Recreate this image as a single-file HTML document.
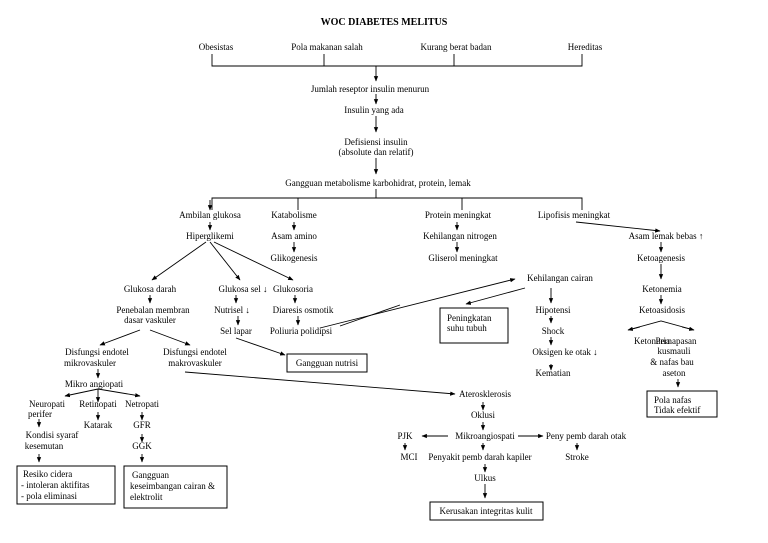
<!DOCTYPE html>
<html><head><meta charset="utf-8"><style>
html,body{margin:0;padding:0;background:#fff;}
svg{display:block;}
text{font-family:"Liberation Serif",serif;font-size:9px;fill:#000;text-anchor:middle;}
.l{text-anchor:start;}
line,polyline{stroke:#000;stroke-width:0.9;fill:none;}
rect{fill:none;stroke:#000;stroke-width:1;}
</style></head><body>
<svg width="768" height="543" viewBox="0 0 768 543">
<defs><marker id="a" viewBox="0 0 10 10" refX="9" refY="5" markerWidth="6" markerHeight="6" orient="auto"><path d="M0,1 L10,5 L0,9 z" fill="#000"/></marker></defs>
<text x="384" y="25" style="font-weight:bold;font-size:10px">WOC DIABETES MELITUS</text>
<text x="216" y="50">Obesistas</text>
<text x="327" y="50">Pola makanan salah</text>
<text x="456" y="50">Kurang berat badan</text>
<text x="585" y="50">Hereditas</text>
<polyline points="212,54 212,66 582,66 582,54"/>
<line x1="324" y1="54" x2="324" y2="66"/><line x1="454" y1="54" x2="454" y2="66"/>
<line x1="376" y1="66" x2="376" y2="81" marker-end="url(#a)"/>
<text x="370" y="92">Jumlah reseptor insulin menurun</text>
<line x1="376" y1="94" x2="376" y2="104" marker-end="url(#a)"/>
<text x="374" y="113">Insulin yang ada</text>
<line x1="376" y1="116" x2="376" y2="132" marker-end="url(#a)"/>
<text x="376" y="145">Defisiensi insulin</text>
<text x="376" y="155">(absolute dan relatif)</text>
<line x1="376" y1="158" x2="376" y2="174" marker-end="url(#a)"/>
<text x="378" y="186">Gangguan metabolisme karbohidrat, protein, lemak</text>
<line x1="376" y1="189" x2="376" y2="198"/>
<polyline points="212,210 212,198 582,198 582,210"/>
<line x1="298" y1="198" x2="298" y2="210"/><line x1="462" y1="198" x2="462" y2="210"/>
<line x1="210" y1="200" x2="210" y2="210" marker-end="url(#a)"/>
<text x="210" y="218">Ambilan glukosa</text>
<text x="294" y="218">Katabolisme</text>
<text x="458" y="218">Protein meningkat</text>
<text x="574" y="218">Lipofisis meningkat</text>
<line x1="210" y1="222" x2="210" y2="230" marker-end="url(#a)"/>
<line x1="294" y1="222" x2="294" y2="230" marker-end="url(#a)"/>
<line x1="457" y1="222" x2="457" y2="230" marker-end="url(#a)"/>
<text x="210" y="239">Hiperglikemi</text>
<text x="294" y="239">Asam amino</text>
<text x="460" y="239">Kehilangan nitrogen</text>
<line x1="294" y1="242" x2="294" y2="252" marker-end="url(#a)"/>
<line x1="457" y1="242" x2="457" y2="252" marker-end="url(#a)"/>
<text x="294" y="261">Glikogenesis</text>
<text x="463" y="261">Gliserol meningkat</text>
<line x1="576" y1="222" x2="660" y2="231" marker-end="url(#a)"/>
<text x="666" y="239">Asam lemak bebas ↑</text>
<line x1="661" y1="242" x2="661" y2="252" marker-end="url(#a)"/>
<text x="661" y="261">Ketoagenesis</text>
<line x1="661" y1="264" x2="661" y2="279" marker-end="url(#a)"/>
<text x="662" y="292">Ketonemia</text>
<line x1="661" y1="295" x2="661" y2="304" marker-end="url(#a)"/>
<text x="662" y="313">Ketoasidosis</text>
<polyline points="628,330 661,321 694,330"/>
<line x1="640" y1="327" x2="628" y2="330" marker-end="url(#a)"/>
<line x1="682" y1="327" x2="694" y2="330" marker-end="url(#a)"/>
<text x="652" y="344">Ketonuria</text>
<text x="676" y="344">Pernapasan</text>
<text x="674" y="354">kusmauli</text>
<text x="672" y="365">&amp; nafas bau</text>
<text x="674" y="376">aseton</text>
<line x1="678" y1="379" x2="678" y2="387" marker-end="url(#a)"/>
<rect x="647" y="391" width="70" height="26"/>
<text class="l" x="654" y="403">Pola nafas</text>
<text class="l" x="654" y="413">Tidak efektif</text>
<line x1="206" y1="242" x2="152" y2="280" marker-end="url(#a)"/>
<line x1="210" y1="242" x2="240" y2="280" marker-end="url(#a)"/>
<line x1="214" y1="242" x2="293" y2="280" marker-end="url(#a)"/>
<text x="150" y="292">Glukosa darah</text>
<text x="243" y="292">Glukosa sel ↓</text>
<text x="293" y="292">Glukosoria</text>
<line x1="150" y1="295" x2="150" y2="303" marker-end="url(#a)"/>
<line x1="236" y1="295" x2="236" y2="303" marker-end="url(#a)"/>
<line x1="295" y1="295" x2="295" y2="303" marker-end="url(#a)"/>
<text x="153" y="313">Penebalan membran</text>
<text x="150" y="323">dasar vaskuler</text>
<text x="232" y="313">Nutrisel ↓</text>
<text x="303" y="313">Diaresis osmotik</text>
<line x1="238" y1="316" x2="238" y2="325" marker-end="url(#a)"/>
<line x1="298" y1="316" x2="298" y2="325" marker-end="url(#a)"/>
<text x="236" y="334">Sel lapar</text>
<text x="301" y="334">Poliuria polidipsi</text>
<line x1="236" y1="338" x2="285" y2="355" marker-end="url(#a)"/>
<rect x="287" y="354" width="80" height="18"/>
<text x="327" y="366">Gangguan nutrisi</text>
<line x1="320" y1="328" x2="515" y2="279" marker-end="url(#a)"/>
<line x1="340" y1="326" x2="400" y2="305"/>
<text x="560" y="281">Kehilangan cairan</text>
<line x1="525" y1="288" x2="466" y2="304" marker-end="url(#a)"/>
<rect x="440" y="308" width="68" height="35"/>
<text class="l" x="447" y="321">Peningkatan</text>
<text class="l" x="447" y="331">suhu tubuh</text>
<line x1="551" y1="288" x2="551" y2="303" marker-end="url(#a)"/>
<text x="553" y="313">Hipotensi</text>
<line x1="551" y1="316" x2="551" y2="323" marker-end="url(#a)"/>
<text x="553" y="334">Shock</text>
<line x1="551" y1="337" x2="551" y2="345" marker-end="url(#a)"/>
<text x="565" y="355">Oksigen ke otak ↓</text>
<line x1="551" y1="364" x2="551" y2="370" marker-end="url(#a)"/>
<text x="553" y="376">Kematian</text>
<line x1="140" y1="330" x2="100" y2="345" marker-end="url(#a)"/>
<line x1="150" y1="330" x2="190" y2="345" marker-end="url(#a)"/>
<text x="97" y="355">Disfungsi endotel</text>
<text x="90" y="366">mikrovaskuler</text>
<text x="195" y="355">Disfungsi endotel</text>
<text x="195" y="366">makrovaskuler</text>
<line x1="185" y1="372" x2="455" y2="394" marker-end="url(#a)"/>
<line x1="98" y1="369" x2="98" y2="378" marker-end="url(#a)"/>
<text x="94" y="387">Mikro angiopati</text>
<line x1="98" y1="389" x2="65" y2="396" marker-end="url(#a)"/>
<line x1="98" y1="389" x2="98" y2="402" marker-end="url(#a)"/>
<line x1="98" y1="389" x2="140" y2="396" marker-end="url(#a)"/>
<text x="47" y="407">Neuropati</text>
<text x="40" y="417">perifer</text>
<text x="98" y="407">Retinopati</text>
<text x="142" y="407">Netropati</text>
<line x1="39" y1="419" x2="39" y2="427" marker-end="url(#a)"/>
<line x1="98" y1="412" x2="98" y2="420" marker-end="url(#a)"/>
<line x1="142" y1="412" x2="142" y2="420" marker-end="url(#a)"/>
<text x="98" y="428">Katarak</text>
<text x="142" y="428">GFR</text>
<text x="52" y="438">Kondisi syaraf</text>
<text x="44" y="449">kesemutan</text>
<line x1="142" y1="434" x2="142" y2="442" marker-end="url(#a)"/>
<text x="142" y="449">GGK</text>
<line x1="39" y1="454" x2="39" y2="462" marker-end="url(#a)"/>
<line x1="142" y1="454" x2="142" y2="462" marker-end="url(#a)"/>
<rect x="17" y="466" width="98" height="38"/>
<text class="l" x="23" y="477">Resiko cidera</text>
<text class="l" x="21" y="488">- intoleran aktifitas</text>
<text class="l" x="21" y="499">- pola eliminasi</text>
<rect x="124" y="466" width="103" height="42"/>
<text class="l" x="132" y="478">Gangguan</text>
<text class="l" x="130" y="489">keseimbangan cairan &amp;</text>
<text class="l" x="130" y="500">elektrolit</text>
<text x="485" y="397">Aterosklerosis</text>
<line x1="483" y1="402" x2="483" y2="410" marker-end="url(#a)"/>
<text x="483" y="418">Oklusi</text>
<line x1="483" y1="422" x2="483" y2="430" marker-end="url(#a)"/>
<text x="485" y="439">Mikroangiospati</text>
<line x1="448" y1="436" x2="422" y2="436" marker-end="url(#a)"/>
<line x1="518" y1="436" x2="543" y2="436" marker-end="url(#a)"/>
<text x="405" y="439">PJK</text>
<text x="586" y="439">Peny pemb darah otak</text>
<line x1="405" y1="443" x2="405" y2="450" marker-end="url(#a)"/>
<line x1="577" y1="443" x2="577" y2="450" marker-end="url(#a)"/>
<line x1="483" y1="443" x2="483" y2="450" marker-end="url(#a)"/>
<text x="409" y="460">MCI</text>
<text x="480" y="460">Penyakit pemb darah kapiler</text>
<text x="577" y="460">Stroke</text>
<line x1="485" y1="464" x2="485" y2="472" marker-end="url(#a)"/>
<text x="485" y="481">Ulkus</text>
<line x1="485" y1="484" x2="485" y2="498" marker-end="url(#a)"/>
<rect x="430" y="502" width="113" height="18"/>
<text x="486" y="514">Kerusakan integritas kulit</text>
</svg>
</body></html>
